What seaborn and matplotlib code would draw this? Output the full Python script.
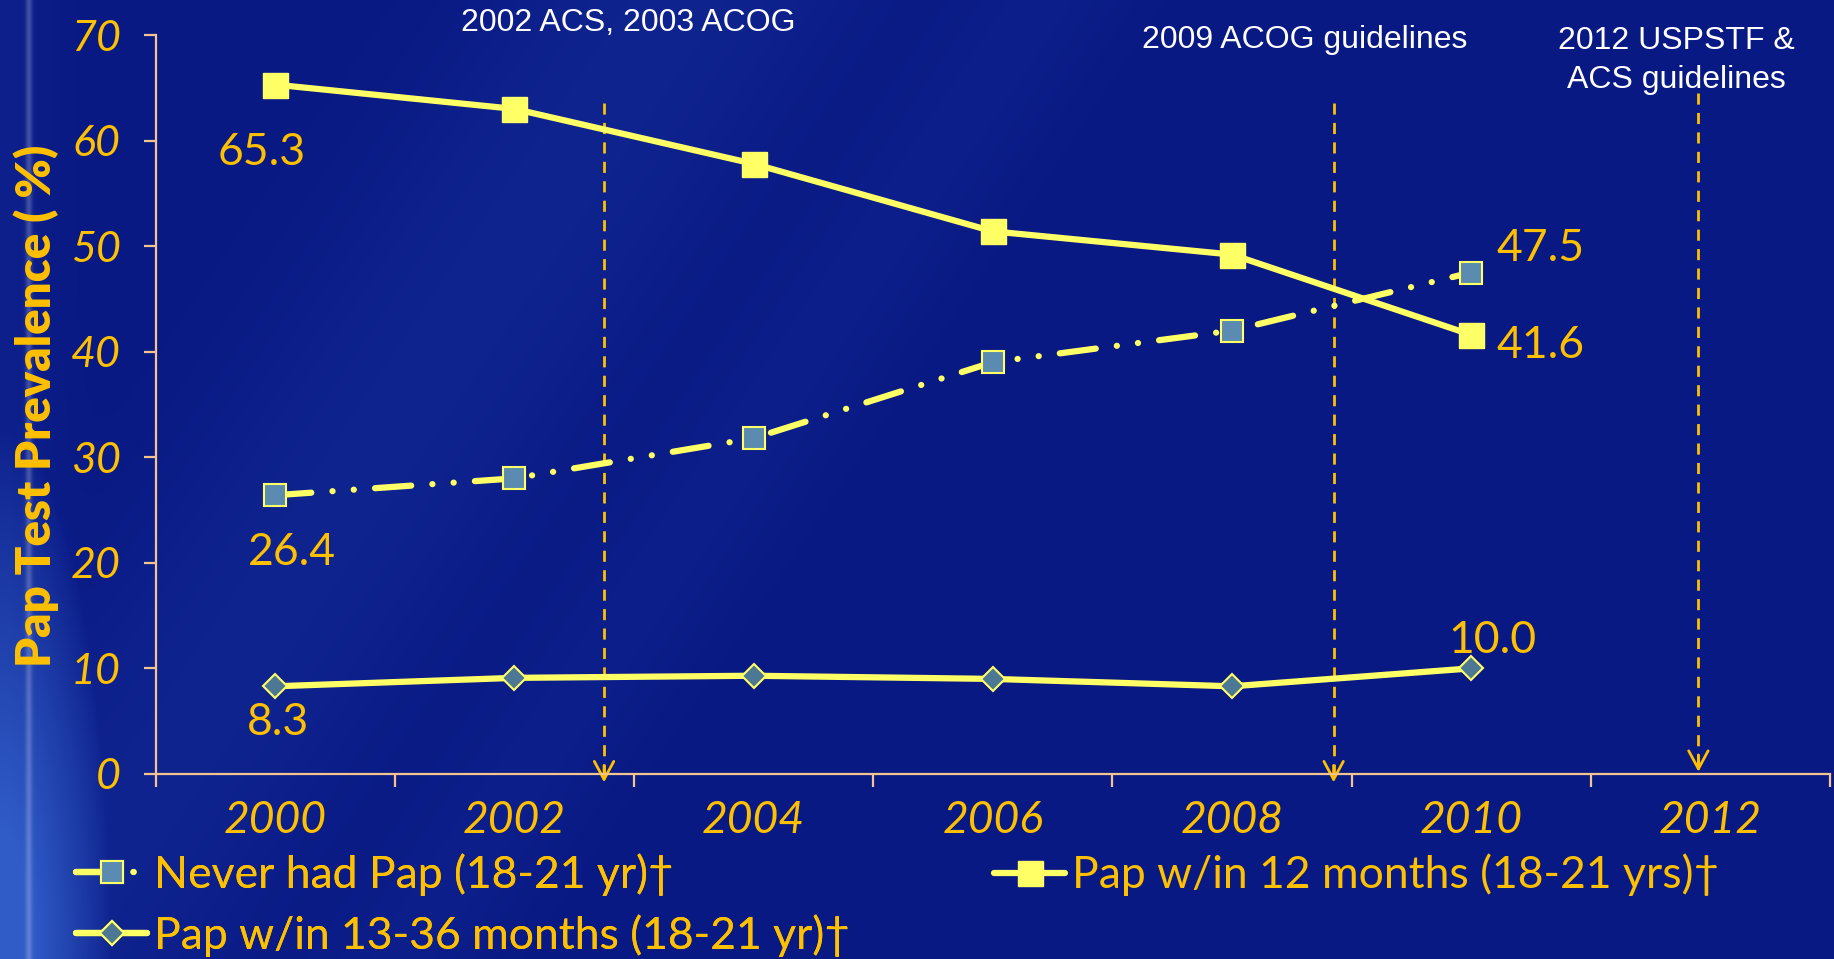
import numpy as np
import pandas as pd
import matplotlib
matplotlib.use("Agg")
import matplotlib.pyplot as plt
import seaborn as sns
from matplotlib.lines import Line2D

# ---- data -------------------------------------------------------------
years = [2000, 2002, 2004, 2006, 2008, 2010]
never_had = [26.4, 28.0, 31.8, 39.0, 42.0, 47.5]
within_12 = [65.3, 63.0, 57.8, 51.4, 49.2, 41.6]
within_13_36 = [8.3, 9.1, 9.3, 9.0, 8.3, 10.0]

series_names = [
    "Never had Pap (18-21 yr)\u2020",
    "Pap w/in 12 months (18-21 yrs)\u2020",
    "Pap w/in 13-36 months (18-21 yr)\u2020",
]

guideline_years = [2002.75, 2008.85, 2011.9]
guideline_labels = ["2002 ACS, 2003 ACOG", "2009 ACOG guidelines",
                    "2012 USPSTF &\nACS guidelines"]

y_ticks = [0, 10, 20, 30, 40, 50, 60, 70]
x_label_years = [2000, 2002, 2004, 2006, 2008, 2010, 2012]
x_tick_years = [1999, 2001, 2003, 2005, 2007, 2009, 2011, 2013]

df = pd.DataFrame({
    "year": years * 3,
    "value": never_had + within_12 + within_13_36,
    "series": [series_names[0]] * 6 + [series_names[1]] * 6 + [series_names[2]] * 6,
})

# ---- style ------------------------------------------------------------
sns.set_theme(style="ticks")
plt.rcParams["font.family"] = ["Lato", "DejaVu Sans"]

GOLD = "#FFC000"
YELLOW = "#FFFF66"
AXIS = "#F3C48E"
SQ_BLUE = "#5B8BB0"
DIA_BLUE = "#4C7896"
LW = 4.5

fig = plt.figure(figsize=(18.34, 9.59), dpi=100)

# backdrop: deep blue slide background with soft light streaks on the left
H, W = 959, 1834
X = np.linspace(0, 1, W)[None, :]
Y = np.linspace(0, 1, H)[:, None]
base = np.array([9, 25, 132]) / 255.0
light = np.array([48, 92, 200]) / 255.0
corner = np.clip(1 - np.hypot(X / 0.06, (1 - Y) / 0.55), 0, 1) ** 0.8
t = X - 0.35 * (1 - Y)
band = 0.16 * np.exp(-((t - 0.02) / 0.10) ** 2) + 0.08 * np.exp(-((t - 0.22) / 0.05) ** 2)
edge = 0.10 * np.exp(-(X / 0.03) ** 2)
w = np.clip(corner + band + edge, 0, 1)[..., None]
img = base + (light - base) * w
streak = 0.22 * np.exp(-((X - 0.0155) / 0.0018) ** 2)[..., None]
img = np.clip(img + streak * (1 - img), 0, 1)
bg = fig.add_axes([0, 0, 1, 1], zorder=-10)
bg.imshow(img, aspect="auto", extent=[0, 1, 0, 1], interpolation="bilinear")
bg.set_axis_off()

ax = fig.add_axes([0.0848, 0.193, 0.913, 0.7705])
ax.set_facecolor("none")

# ---- lines ------------------------------------------------------------
dash_pattern = (0, (5.8, 3.4, 0.01, 3.4, 0.01, 3.4))

sns.lineplot(data=df[df.series == series_names[0]], x="year", y="value", ax=ax,
             color=YELLOW, lw=LW, marker="s", ms=16, mfc=SQ_BLUE, mec=YELLOW, mew=1.5,
             legend=False, zorder=3)
never_line = ax.lines[-1]
never_line.set_linestyle(dash_pattern)
never_line.set_dash_capstyle("round")

sns.lineplot(data=df[df.series == series_names[2]], x="year", y="value", ax=ax,
             color=YELLOW, lw=LW, marker="D", ms=12.5, mfc=DIA_BLUE, mec=YELLOW, mew=1.5,
             legend=False, zorder=3)

sns.lineplot(data=df[df.series == series_names[1]], x="year", y="value", ax=ax,
             color=YELLOW, lw=LW, marker="s", ms=18, mfc=YELLOW, mec=YELLOW, mew=1,
             legend=False, zorder=4)

# ---- value labels on the first and last points --------------------------
label_font = dict(color=GOLD, fontsize=32, ha="center", va="center")
ax.annotate(f"{within_12[0]:.1f}", (years[0], within_12[0]), xytext=(-10, -49),
            textcoords="offset points", **label_font)
ax.annotate(f"{never_had[0]:.1f}", (years[0], never_had[0]), xytext=(12, -41),
            textcoords="offset points", **label_font)
ax.annotate(f"{within_13_36[0]:.1f}", (years[0], within_13_36[0]), xytext=(2, -26),
            textcoords="offset points", **label_font)
ax.annotate(f"{never_had[-1]:.1f}", (years[-1], never_had[-1]), xytext=(50, 17),
            textcoords="offset points", **label_font)
ax.annotate(f"{within_12[-1]:.1f}", (years[-1], within_12[-1]), xytext=(50, -8),
            textcoords="offset points", **label_font)
ax.annotate(f"{within_13_36[-1]:.1f}", (years[-1], within_13_36[-1]), xytext=(15, 20),
            textcoords="offset points", **label_font)

# ---- guideline markers ----------------------------------------------------
line_tops = [63.6, 63.6, 64.5]
arrow_tips = [-0.8, -0.8, 0.2]
for gx, top, tip in zip(guideline_years, line_tops, arrow_tips):
    ax.plot([gx, gx], [top, tip + 0.8], color=GOLD, lw=2, linestyle=(0, (4, 3)),
            clip_on=False, zorder=2)
    ax.annotate("", xy=(gx, tip), xytext=(gx, tip + 1.6),
                arrowprops=dict(arrowstyle="->,head_length=0.65,head_width=0.35",
                                color=GOLD, lw=2, mutation_scale=20,
                                shrinkA=0, shrinkB=0),
                annotation_clip=False, zorder=2)

note_font = dict(color="white", fontsize=23, ha="center", va="center",
                 family=["Liberation Sans", "DejaVu Sans"], clip_on=False)
ax.text(2002.95, 71.1, guideline_labels[0], **note_font)
ax.text(2008.61, 69.5, guideline_labels[1], **note_font)
ax.text(2011.72, 67.6, guideline_labels[2], linespacing=1.4, **note_font)

# ---- axes -----------------------------------------------------------------
ax.set_xlim(1999, 2013)
ax.set_ylim(0, 70)
sns.despine(ax=ax)
for side in ("left", "bottom"):
    ax.spines[side].set_color(AXIS)
    ax.spines[side].set_linewidth(1.6)

ax.set_yticks(y_ticks)
ax.set_yticklabels([str(v) for v in y_ticks])
ax.set_xticks(x_tick_years)
ax.set_xticklabels([""] * len(x_tick_years))
ax.set_xticks(x_label_years, minor=True)
ax.set_xticklabels([str(v) for v in x_label_years], minor=True)
ax.tick_params(which="major", direction="out", length=9, width=1.6, color=AXIS)
ax.tick_params(axis="y", which="major", pad=16, labelsize=31, labelcolor=GOLD)
ax.tick_params(axis="x", which="minor", length=0, pad=19, labelsize=32, labelcolor=GOLD)
for lab in ax.get_yticklabels() + ax.get_xticklabels(minor=True):
    lab.set_fontstyle("italic")
ax.set_xlabel("")
ax.set_ylabel("")

fig.text(36 / 1834, 1 - 406 / 959, "Pap Test Prevalence ( %)", rotation=90,
         ha="center", va="center", color=GOLD, fontsize=34, fontweight="heavy")

# ---- legend ---------------------------------------------------------------
h_never = Line2D([], [], color=YELLOW, lw=LW, linestyle=dash_pattern,
                 dash_capstyle="round", marker="s", ms=16, mfc=SQ_BLUE,
                 mec=YELLOW, mew=1.5)
h_1336 = Line2D([], [], color=YELLOW, lw=LW, marker="D", ms=12.5, mfc=DIA_BLUE,
                mec=YELLOW, mew=1.5)
h_12 = Line2D([], [], color=YELLOW, lw=LW, marker="s", ms=18, mfc=YELLOW,
              mec=YELLOW, mew=1)

leg_kw = dict(frameon=False, fontsize=32, labelcolor=GOLD, handlelength=1.6,
              handletextpad=0.15, borderpad=0, borderaxespad=0, numpoints=1)
leg1 = fig.legend([h_never, h_1336], [series_names[0], series_names[2]],
                  loc="center left", bbox_to_anchor=(76 / 1834, 1 - 905 / 959),
                  labelspacing=0.42, **leg_kw)
fig.add_artist(leg1)
fig.legend([h_12], [series_names[1]], loc="center left",
           bbox_to_anchor=(994 / 1834, 1 - 875 / 959), **leg_kw)

fig.savefig("out.png", dpi=100)
